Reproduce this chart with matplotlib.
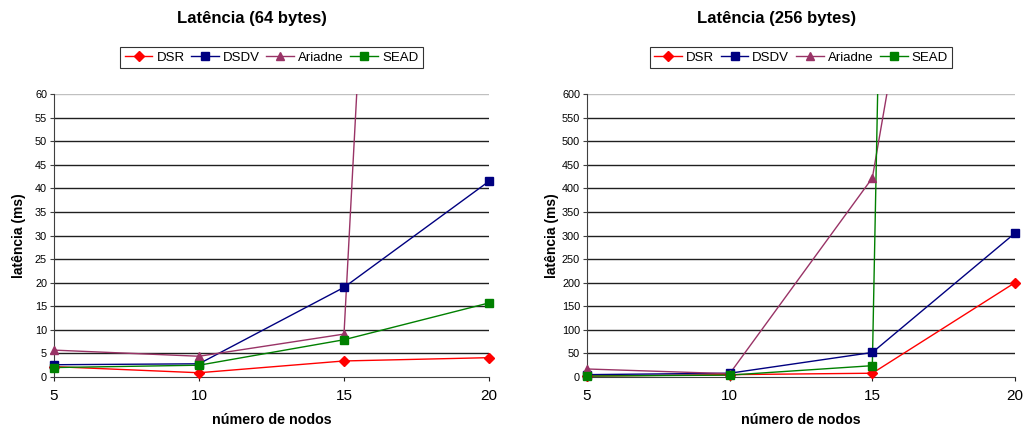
import numpy as np
import matplotlib
matplotlib.use("Agg")
import matplotlib.pyplot as plt

plt.rcParams['font.family'] = ['Liberation Sans', 'DejaVu Sans']

nodes = [5, 10, 15, 20]
series_names = ['DSR', 'DSDV', 'Ariadne', 'SEAD']

# 64 bytes
dsr_64 = [2.2, 0.9, 3.4, 4.1]
dsdv_64 = [2.6, 2.8, 19.0, 41.5]
ariadne_64 = [5.7, 4.4, 9.1, 590.0]
sead_64 = [2.0, 2.5, 7.9, 15.7]

# 256 bytes
dsr_256 = [2.0, 5.0, 8.0, 200.0]
dsdv_256 = [5.0, 8.0, 52.0, 305.0]
ariadne_256 = [17.0, 7.0, 422.0, 2170.0]
sead_256 = [2.0, 4.0, 24.0, 15500.0]

colors = ['#ff0000', '#000080', '#993366', '#008000']
markers = ['D', 's', '^', 's']
msizes = [5, 5.5, 5.5, 5.5]

W, H = 1023, 429
fig = plt.figure(figsize=(W / 100, H / 100), dpi=100)


def panel(left, width, data, ymax, ystep, title, title_x):
    ax = fig.add_axes([left / W, (H - 377) / H, width / W, 283 / H])
    ax.set_xlim(5, 20)
    ax.set_ylim(0, ymax)
    for i, ys in enumerate(data):
        ys = np.array(ys, dtype=float)
        ax.plot(nodes, ys, color=colors[i], lw=1, zorder=3)
        shown = np.where(ys <= ymax, ys, np.nan)
        ax.plot(nodes, shown, ls='none', marker=markers[i], ms=msizes[i],
                color=colors[i], clip_on=False, zorder=4, label=series_names[i])
    ticks = np.arange(0, ymax + ystep, ystep)
    for t in ticks[1:]:
        c = '#c0c0c0' if t == ymax else '#202020'
        ax.axhline(t, color=c, lw=1, zorder=1)
    ax.set_yticks(ticks)
    ax.set_xticks(nodes)
    for s in ['top', 'right']:
        ax.spines[s].set_visible(False)
    ax.spines['left'].set_color('#404040')
    ax.spines['bottom'].set_color('#404040')
    ax.tick_params(axis='y', labelsize=7.8, length=3, width=0.8, color='#404040', pad=2)
    ax.tick_params(axis='x', labelsize=11, length=3, width=0.8, color='#202020', pad=6)
    ax.set_xlabel('número de nodos', fontsize=10.3, fontweight='bold')
    ax.xaxis.set_label_coords(0.5, -(413 - 377) / 283)
    ax.set_ylabel('latência (ms)', fontsize=10, fontweight='bold')
    ax.yaxis.set_label_coords(-28 / width, 0.5)
    leg = ax.legend(loc='center', bbox_to_anchor=(0.5, 1 + (94 - 57.5) / 283), ncol=4,
                    fontsize=9.5, frameon=True, fancybox=False, edgecolor='black',
                    handlelength=2.1, handletextpad=0.3, columnspacing=0.5,
                    borderpad=0.35)
    leg.get_frame().set_linewidth(0.8)
    for h in leg.legend_handles:
        h.set_linestyle('-')
        h.set_linewidth(1)
    fig.text(title_x / W, 1 - 19 / H, title, ha='center', va='center',
             fontsize=12, fontweight='bold')
    return ax


panel(54, 435, [dsr_64, dsdv_64, ariadne_64, sead_64], 60, 5,
      'Latência (64 bytes)', 252)
panel(587, 428, [dsr_256, dsdv_256, ariadne_256, sead_256], 600, 50,
      'Latência (256 bytes)', 777)

fig.savefig('out.png', dpi=100)
